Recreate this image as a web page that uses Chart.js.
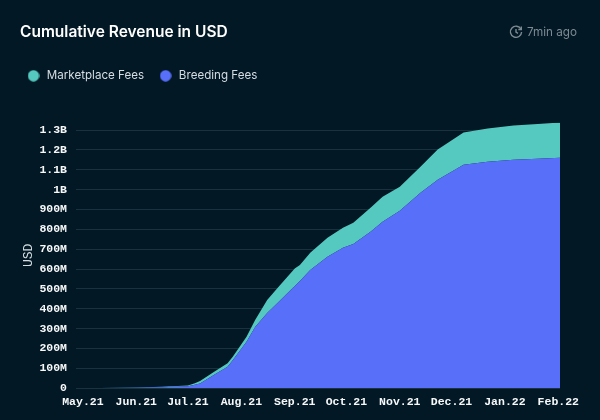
<!DOCTYPE html>
<html>
<head>
<meta charset="utf-8">
<script src="https://cdn.jsdelivr.net/npm/chart.js@4"></script>
<style>
  html, body { margin: 0; padding: 0; background: #021825; }
  #wrap { position: relative; width: 600px; height: 420px; overflow: hidden; font-family: Inter, sans-serif; }
  #title { position: absolute; left: 20px; top: 22px; color: #fff; font-size: 15.5px; font-weight: 600; line-height: 20px; }
  #updated { position: absolute; right: 23px; top: 23px; color: #7d8a93; font-size: 11.7px; line-height: 18px; }
  #updated svg { position: absolute; left: -18px; top: 2px; }
</style>
</head>
<body>
<div id="wrap">
  <canvas id="revenueChart" width="600" height="420"></canvas>
  <div id="title">Cumulative Revenue in USD</div>
  <div id="updated">
    <svg width="14" height="14" viewBox="0 0 14 14" fill="none" stroke="#7d8a93" stroke-width="1.4">
      <path d="M12 4.2A5.6 5.6 0 1 0 12.6 7"/><path d="M7 4v3.2l2 1.2"/><path d="M12.3 1.5v3h-3"/>
    </svg>
    7min ago
  </div>
</div>
<script>
// days counted from 1 May 2021
const days = [-4, 10, 31, 46, 61, 65, 68, 76, 84, 87, 95, 100, 107, 113, 123, 126, 132, 142, 151, 157, 167, 174, 184, 196, 206, 221, 235, 250, 264, 277];
// values in million USD
const breedingFees = [0, 0.5, 2.5, 5, 10, 17, 24, 66, 108, 141, 234, 308, 379, 429, 515, 540, 596, 662, 707, 727, 788, 838, 894, 985, 1050, 1126, 1141, 1151, 1156, 1161];
const marketplaceFees = [0, 0.2, 0.5, 2, 4, 8, 12, 16, 18, 17, 25, 35, 65, 76, 88, 81, 86, 96, 101, 106, 121, 127, 121, 131, 152, 162, 167, 172, 175, 177];

const monthDays = [0, 31, 61, 92, 123, 153, 184, 214, 245, 276];
const monthLabels = ['May.21', 'Jun.21', 'Jul.21', 'Aug.21', 'Sep.21', 'Oct.21', 'Nov.21', 'Dec.21', 'Jan.22', 'Feb.22'];
const yTicks = [0, 100, 200, 300, 400, 500, 600, 700, 800, 900, 1000, 1100, 1200, 1300];
const yLabels = ['0', '100M', '200M', '300M', '400M', '500M', '600M', '700M', '800M', '900M', '1B', '1.1B', '1.2B', '1.3B'];

const breedingColor = '#586ffa';
const marketplaceColor = '#55c9c0';
const axisFont = { family: '"Liberation Mono", monospace', size: 11.5, weight: 'bold' };

// round legend dot as an image, so the legend box can stay wider than the dot
function legendDot(color) {
  const c = document.createElement('canvas');
  c.width = 12;
  c.height = 12;
  const ctx = c.getContext('2d');
  ctx.fillStyle = color;
  ctx.arc(6, 6, 5.7, 0, Math.PI * 2);
  ctx.fill();
  return c;
}

// extra room between the legend and the plot
const legendGap = {
  id: 'legendGap',
  beforeInit(chart) {
    const fit = chart.legend.fit;
    chart.legend.fit = function () {
      fit.call(this);
      this.height += 31;
    };
  }
};

new Chart(document.getElementById('revenueChart').getContext('2d'), {
  type: 'line',
  data: {
    datasets: [
      {
        label: 'Breeding Fees',
        data: days.map((d, i) => ({ x: d, y: breedingFees[i] })),
        backgroundColor: breedingColor,
        pointStyle: legendDot(breedingColor),
        borderWidth: 0,
        fill: 'origin'
      },
      {
        label: 'Marketplace Fees',
        data: days.map((d, i) => ({ x: d, y: marketplaceFees[i] })),
        backgroundColor: marketplaceColor,
        pointStyle: legendDot(marketplaceColor),
        borderWidth: 0,
        fill: '-1'
      }
    ]
  },
  options: {
    responsive: false,
    animation: false,
    elements: { point: { radius: 0 }, line: { tension: 0 } },
    layout: { padding: { left: 12, right: 40, top: 56, bottom: 4 } },
    plugins: {
      tooltip: { enabled: false },
      legend: {
        align: 'start',
        reverse: true,
        labels: {
          usePointStyle: true,
          pointStyleWidth: 15,
          color: '#d6dde2',
          font: { family: 'Inter, sans-serif', size: 11.6 },
          boxHeight: 8,
          padding: 14
        }
      }
    },
    scales: {
      x: {
        type: 'linear',
        min: -4,
        max: 277,
        grid: { display: false, drawTicks: false },
        border: { display: false },
        afterBuildTicks(scale) {
          scale.ticks = monthDays.map(d => ({ value: d }));
        },
        ticks: {
          color: '#f7f8f9',
          font: axisFont,
          padding: 7,
          autoSkip: false,
          maxRotation: 0,
          callback: (v) => monthLabels[monthDays.indexOf(v)]
        }
      },
      y: {
        stacked: true,
        min: 0,
        max: 1338,
        afterFit(scale) { scale.width = 64; },
        afterBuildTicks(scale) {
          scale.ticks = yTicks.map(v => ({ value: v }));
        },
        grid: { color: '#1a3240', drawTicks: false },
        border: { display: false },
        title: { display: true, text: 'USD', color: '#d6dde2', font: { family: '"Liberation Mono", monospace', size: 13 }, padding: { top: 9, bottom: 0 } },
        ticks: {
          color: '#f7f8f9',
          font: axisFont,
          padding: 9,
          autoSkip: false,
          callback: (v) => yLabels[yTicks.indexOf(v)]
        }
      }
    }
  },
  plugins: [legendGap]
});
</script>
</body>
</html>
